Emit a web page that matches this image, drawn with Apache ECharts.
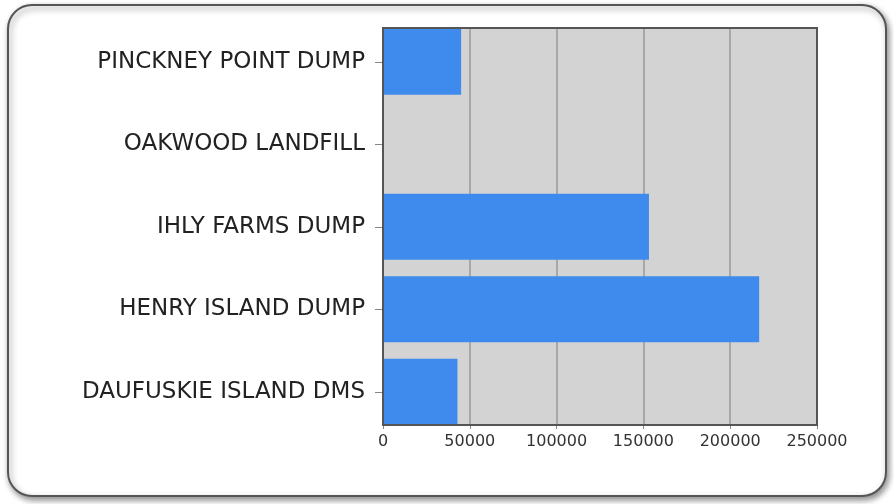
<!DOCTYPE html>
<html><head><meta charset="utf-8">
<script src="https://cdn.jsdelivr.net/npm/echarts@6/dist/echarts.min.js"></script>
<style>html,body{margin:0;padding:0;background:#fff}#c{width:894px;height:504px}</style>
</head><body><div id="c"></div>
<script>
const categories = ['DAUFUSKIE ISLAND DMS','HENRY ISLAND DUMP','IHLY FARMS DUMP','OAKWOOD LANDFILL','PINCKNEY POINT DUMP'];
const values = [42900, 216700, 153200, 0, 45000];
const xMin = 0, xMax = 250000, xStep = 50000;

const FONT = 'DejaVu Sans';
const chart = echarts.init(document.getElementById('c'));
chart.setOption({
  animation: false,
  graphic: [{
    type: 'rect', z: -10,
    shape: { x: 8, y: 5, width: 878, height: 491, r: 24 },
    style: { fill: '#fff', stroke: '#555', lineWidth: 2,
      shadowBlur: 6, shadowOffsetX: 2, shadowOffsetY: 3, shadowColor: 'rgba(0,0,0,0.45)' }
  }],
  grid: [
    { left: 383, right: 77, top: 28, bottom: 79, show: true,
      backgroundColor: '#d3d3d3', borderWidth: 0 },
    { left: 383, right: 77, top: 20.5, bottom: 71, show: false },
    { left: 383, right: 77, top: 28, bottom: 79, show: true, z: 5,
      backgroundColor: 'transparent', borderColor: '#555', borderWidth: 2 }
  ],
  xAxis: [{
    gridIndex: 0, type: 'value', min: xMin, max: xMax, interval: xStep,
    axisLine: { show: false },
    axisTick: { show: true, length: 4, lineStyle: { color: '#888' } },
    splitLine: { show: true, lineStyle: { color: '#999', width: 1.5 } },
    axisLabel: { color: '#333', fontFamily: FONT, fontSize: 16, margin: 9,
      formatter: v => String(v) }
  }, {
    gridIndex: 1, type: 'value', min: xMin, max: xMax, show: false
  }, {
    gridIndex: 2, type: 'value', min: xMin, max: xMax, show: false
  }],
  yAxis: [{
    gridIndex: 0, type: 'category', data: categories, show: false
  }, {
    gridIndex: 1, type: 'category', data: categories,
    axisLine: { show: false },
    axisTick: { show: true, length: 8, alignWithLabel: true, lineStyle: { color: '#888' } },
    axisLabel: { color: '#222', fontFamily: FONT, fontSize: 23, margin: 18 }
  }, {
    gridIndex: 2, type: 'category', data: categories, show: false
  }],
  series: [{
    type: 'bar', xAxisIndex: 1, yAxisIndex: 1, data: values, barWidth: '80%',
    itemStyle: { color: '#3f8aed' }
  }]
});
</script></body></html>
